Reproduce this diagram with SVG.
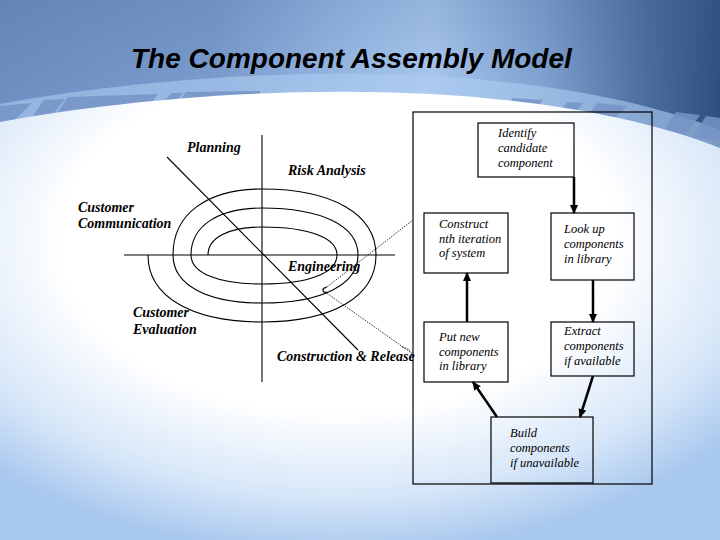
<svg xmlns="http://www.w3.org/2000/svg" width="720" height="540" viewBox="0 0 720 540">
  <defs>
    <radialGradient id="bgGlow" cx="0.47" cy="0.33" r="0.7">
      <stop offset="0" stop-color="#ffffff"/>
      <stop offset="0.55" stop-color="#ffffff"/>
      <stop offset="0.82" stop-color="#d6e6f8"/>
      <stop offset="1" stop-color="#a9c8ee"/>
    </radialGradient>
    <linearGradient id="topBlue" x1="0" y1="0" x2="1" y2="0">
      <stop offset="0" stop-color="#6f91c4"/>
      <stop offset="0.3" stop-color="#7fa1d2"/>
      <stop offset="0.5" stop-color="#a4c4ee"/>
      <stop offset="0.6" stop-color="#b2d0f6"/>
      <stop offset="0.75" stop-color="#85a8d6"/>
      <stop offset="0.9" stop-color="#4b6e9f"/>
      <stop offset="1" stop-color="#2d4f80"/>
    </linearGradient>
    <linearGradient id="topShade" x1="0" y1="0" x2="0" y2="1">
      <stop offset="0" stop-color="#3e5f90" stop-opacity="0.25"/>
      <stop offset="0.6" stop-color="#3e5f90" stop-opacity="0"/>
    </linearGradient>
    <marker id="arr" markerUnits="userSpaceOnUse" markerWidth="9" markerHeight="8" refX="8" refY="4" orient="auto">
      <path d="M0,0 L9,4 L0,8 z" fill="#000"/>
    </marker>
    <style>
      .title { font-family: "Liberation Sans", Arial, sans-serif; font-size: 28px; font-weight: bold; font-style: italic; fill: #000; }
      .lbl { font-family: "Liberation Serif", "Times New Roman", serif; font-size: 14px; font-weight: bold; font-style: italic; fill: #000; }
      .bx { font-family: "Liberation Serif", "Times New Roman", serif; font-size: 12.5px; font-style: italic; fill: #000; }
      .box { fill: none; stroke: #000; stroke-width: 1.2; }
      .ax { fill: none; stroke: #000; stroke-width: 1.1; }
      .dot { fill: none; stroke: #000; stroke-width: 0.8; stroke-dasharray: 1.5 1.2; }
      .flow { fill: none; stroke: #000; stroke-width: 2.5; marker-end: url(#arr); }
      .streak { fill: #7594c6; opacity: 0.85; }
    </style>
  </defs>

  <!-- background -->
  <g id="background">
    <rect x="0" y="0" width="720" height="540" fill="url(#topBlue)"/>
    <rect x="0" y="0" width="720" height="200" fill="url(#topShade)"/>
    <path d="M0,104 C200,67 520,52 720,130 V160 H0 Z" fill="#aecbf2" opacity="0.6"/>
    <polygon class="streak" points="0,106 32,103 14,121 0,124"/>
    <polygon class="streak" points="44,100 65,99 53,114 33,116"/>
    <polygon class="streak" points="68,97 158,94 150,104 58,112"/>
    <polygon class="streak" points="172,93 183,93 177,100 165,100"/>
    <polygon class="streak" points="186,92 260,91 260,100 180,100"/>
    <polygon class="streak" points="513,98 543,100 536,108 505,107"/>
    <polygon class="streak" points="567,102 583,103 575,114 559,113"/>
    <polygon class="streak" points="597,103 627,106 614,119 587,117"/>
    <polygon class="streak" points="676,112 700,115 684,136 662,134"/>
    <polygon class="streak" points="706,116 720,118 720,140 692,138"/>
    <path d="M0,122 C200,85 520,70 720,148 V540 H0 Z" fill="url(#bgGlow)"/>
  </g>

  <text class="title" x="131" y="68">The Component Assembly Model</text>

  <!-- spiral model -->
  <g id="spiral">
    <line class="ax" x1="262" y1="135" x2="262" y2="382"/>
    <line class="ax" x1="124" y1="255" x2="395" y2="255"/>
    <line class="ax" x1="167" y1="157" x2="358" y2="350"/>
    <path class="ax" d="M148,255 C148,296.5 191.3,322 262,322 C332.7,322 376,296.5 376,255 C376,214.1 332.7,189 262,189 C206.8,189 173,214.1 173,255 C173,284.8 206.8,303 262,303 C321.5,303 358,284.8 358,255 C358,225.9 321.5,208 262,208 C218,208 191,225.9 191,255 C191,273 218,284 262,284 C308.5,284 337,273 337,255 C337,237.6 308.5,227 262,227 C228.5,227 208,237.6 208,255"/>
    <line class="dot" x1="323" y1="290" x2="413" y2="220"/>
    <line class="dot" x1="325" y1="292" x2="410" y2="352"/>
    <path class="ax" d="M327,287 Q322,288 323,291 Q324,293 327,292" stroke-width="0.8"/>
    <path class="dot" d="M402,347 Q413,349 412,358"/>
  </g>

  <g id="spiral-labels">
    <text class="lbl" x="187" y="152">Planning</text>
    <text class="lbl" x="288" y="175">Risk Analysis</text>
    <text class="lbl" x="78" y="212">Customer</text>
    <text class="lbl" x="78" y="228">Communication</text>
    <text class="lbl" x="288" y="271">Engineering</text>
    <text class="lbl" x="133" y="317">Customer</text>
    <text class="lbl" x="133" y="334">Evaluation</text>
    <text class="lbl" x="277" y="361">Construction &amp; Release</text>
  </g>

  <!-- component assembly -->
  <g id="frame">
    <rect class="box" x="413" y="112" width="239" height="372"/>
  </g>

  <g id="identify">
    <rect class="box" x="478" y="123" width="96" height="54"/>
    <text class="bx" x="498" y="137">Identify</text>
    <text class="bx" x="498" y="152">candidate</text>
    <text class="bx" x="498" y="167">component</text>
  </g>

  <g id="construct">
    <rect class="box" x="424" y="213" width="84" height="60"/>
    <text class="bx" x="439" y="228">Construct</text>
    <text class="bx" x="439" y="243">nth iteration</text>
    <text class="bx" x="439" y="257">of system</text>
  </g>

  <g id="lookup">
    <rect class="box" x="551" y="213" width="83" height="67"/>
    <text class="bx" x="564" y="233">Look up</text>
    <text class="bx" x="564" y="248">components</text>
    <text class="bx" x="564" y="263">in library</text>
  </g>

  <g id="putnew">
    <rect class="box" x="424" y="322" width="84" height="60"/>
    <text class="bx" x="439" y="341">Put new</text>
    <text class="bx" x="439" y="356">components</text>
    <text class="bx" x="439" y="370">in library</text>
  </g>

  <g id="extract">
    <rect class="box" x="551" y="322" width="83" height="54"/>
    <text class="bx" x="564" y="335">Extract</text>
    <text class="bx" x="564" y="350">components</text>
    <text class="bx" x="564" y="365">if available</text>
  </g>

  <g id="build">
    <rect class="box" x="491" y="417" width="102" height="66"/>
    <text class="bx" x="510" y="437">Build</text>
    <text class="bx" x="510" y="452">components</text>
    <text class="bx" x="510" y="467">if unavailable</text>
  </g>

  <g id="connectors">
    <line class="flow" x1="574" y1="177" x2="574" y2="213"/>
    <line class="flow" x1="467" y1="322" x2="467" y2="273"/>
    <line class="flow" x1="593" y1="280" x2="593" y2="322"/>
    <line class="flow" x1="593" y1="376" x2="580" y2="417"/>
    <line class="flow" x1="497" y1="417" x2="473" y2="382"/>
  </g>
</svg>
